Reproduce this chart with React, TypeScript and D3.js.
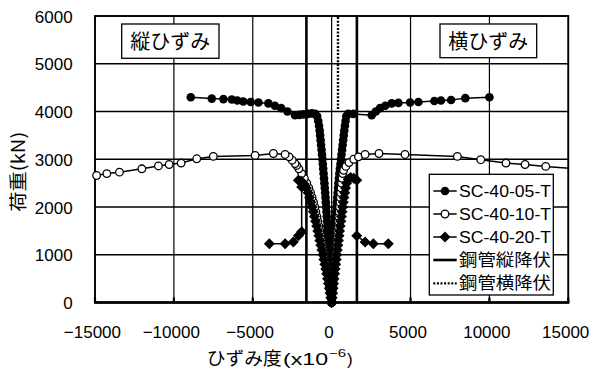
import React from 'react';
import * as d3 from 'd3';

// ---- data: [strain (x10^-6), load (kN)] ----
const sc05Long: number[][] = [
  [0, 0], [-10, 100], [-25, 200], [-40, 300], [-55, 400], [-70, 500], [-85, 600], [-100, 700], [-115, 800],
  [-130, 900], [-150, 1000], [-170, 1100], [-190, 1200], [-210, 1300], [-230, 1400], [-250, 1500],
  [-270, 1600], [-290, 1700], [-310, 1800], [-330, 1900], [-350, 2000], [-370, 2100], [-390, 2200],
  [-410, 2300], [-435, 2400], [-460, 2500], [-485, 2600], [-510, 2700], [-535, 2800], [-560, 2900],
  [-585, 3000], [-610, 3100], [-640, 3200], [-670, 3300], [-700, 3400], [-730, 3500], [-760, 3600],
  [-800, 3700], [-850, 3800], [-920, 3900], [-1050, 3950], [-1250, 3960], [-1500, 3950], [-1800, 3940],
  [-2050, 3930], [-2320, 3920], [-2800, 4000], [-3200, 4070], [-3600, 4120], [-4010, 4170],
  [-4640, 4190], [-5130, 4200], [-5600, 4210], [-5980, 4230], [-6330, 4250], [-6860, 4260],
  [-7600, 4270], [-8930, 4300],
];
const sc05Trans: number[][] = [
  [0, 0], [8, 100], [16, 200], [25, 300], [35, 400], [45, 500], [55, 600], [65, 700], [75, 800],
  [90, 900], [105, 1000], [120, 1100], [135, 1200], [150, 1300], [170, 1400], [190, 1500],
  [210, 1600], [230, 1700], [255, 1800], [280, 1900], [305, 2000], [330, 2100], [355, 2200],
  [380, 2300], [405, 2400], [430, 2500], [460, 2600], [490, 2700], [520, 2800], [555, 2900],
  [590, 3000], [625, 3100], [660, 3200], [695, 3300], [730, 3400], [765, 3500], [800, 3600],
  [840, 3700], [880, 3800], [930, 3900], [1050, 3950], [1370, 3950], [2540, 3920], [2800, 4000],
  [3070, 4070], [3400, 4120], [3810, 4170], [4230, 4180], [4970, 4190], [5500, 4200], [6510, 4220],
  [6930, 4230], [7570, 4240], [8470, 4280], [10000, 4300],
];
const sc10Long: number[][] = [
  [0, 0], [-40, 100], [-85, 200], [-130, 300], [-175, 400], [-220, 500], [-270, 600], [-320, 700],
  [-370, 800], [-420, 900], [-470, 1000], [-525, 1100], [-580, 1200], [-635, 1300], [-690, 1400],
  [-750, 1500], [-810, 1600], [-870, 1700], [-930, 1800], [-1000, 1900], [-1070, 2000], [-1150, 2100],
  [-1240, 2200], [-1340, 2300], [-1450, 2400], [-1580, 2500], [-1730, 2600], [-1900, 2700],
  [-2080, 2800], [-2220, 2870], [-2320, 2910], [-2500, 2980], [-2700, 3050], [-2950, 3100],
  [-3690, 3120], [-4850, 3080], [-7500, 3060], [-8550, 3010], [-9540, 2920], [-10300, 2890],
  [-10980, 2860], [-12030, 2800], [-13450, 2730], [-14250, 2700], [-14900, 2660],
];
const sc10Trans: number[][] = [
  [0, 0], [25, 100], [50, 200], [75, 300], [100, 400], [125, 500], [150, 600], [175, 700], [200, 800],
  [225, 900], [250, 1000], [275, 1100], [300, 1200], [325, 1300], [350, 1400], [375, 1500],
  [400, 1600], [425, 1700], [450, 1800], [475, 1900], [500, 2000], [525, 2100], [550, 2200],
  [575, 2300], [600, 2400], [630, 2500], [660, 2600], [700, 2700], [760, 2770], [900, 2850],
  [1100, 2930], [1400, 3000], [1700, 3050], [2120, 3100], [3000, 3120], [4650, 3100], [7970, 3060],
  [9450, 2990], [11050, 2920], [12260, 2890], [13570, 2850], [16000, 2790],
];
const sc20Long: number[][] = [
  [0, 0], [-50, 100], [-100, 200], [-150, 300], [-205, 400], [-260, 500], [-315, 600], [-375, 700],
  [-435, 800], [-495, 900], [-555, 1000], [-620, 1100], [-685, 1200], [-750, 1300], [-815, 1400],
  [-880, 1500], [-950, 1600], [-1020, 1700], [-1090, 1800], [-1160, 1900], [-1240, 2000],
  [-1320, 2100], [-1400, 2200], [-1490, 2300], [-1600, 2400], [-1750, 2480], [-1920, 2540],
  [-2110, 2560], [-1900, 2420], [-1900, 1480], [-2110, 1400], [-2430, 1265], [-2950, 1230],
  [-3950, 1230],
];
const sc20Trans: number[][] = [
  [0, 0], [30, 100], [60, 200], [90, 300], [120, 400], [150, 500], [185, 600], [220, 700], [255, 800],
  [290, 900], [325, 1000], [360, 1100], [395, 1200], [430, 1300], [465, 1400], [500, 1500],
  [540, 1600], [580, 1700], [620, 1800], [660, 1900], [700, 2000], [740, 2100], [780, 2200],
  [830, 2300], [880, 2400], [950, 2500], [1050, 2580], [1200, 2620], [1400, 2600], [1590, 2560],
  [1590, 1400], [2120, 1265], [2640, 1230], [3590, 1230],
];
const steelLongYield: number[][] = [[-1600, 0], [-1600, 6000]];
const steelLongYield2: number[][] = [[1600, 0], [1600, 6000]];
const steelTransYield: number[][] = [[400, 4050], [400, 6000]];

const xTicks = [-15000, -10000, -5000, 0, 5000, 10000, 15000];
const yTicks = [0, 1000, 2000, 3000, 4000, 5000, 6000];
const legendLabels = ['SC-40-05-T', 'SC-40-10-T', 'SC-40-20-T', '鋼管縦降伏', '鋼管横降伏'];

type MarkerKind = 'filled' | 'open' | 'diamond';

function Marker({ kind, cx, cy }: { kind: MarkerKind; cx: number; cy: number }) {
  if (kind === 'filled') return <circle cx={cx} cy={cy} r={4.3} fill="#000" />;
  if (kind === 'open') return <circle cx={cx} cy={cy} r={3.8} fill="#fff" stroke="#000" strokeWidth={1.3} />;
  const r = 5.5;
  return <path d={`M${cx},${cy - r}L${cx + r},${cy}L${cx},${cy + r}L${cx - r},${cy}Z`} fill="#000" />;
}

export default function App() {
  const L = 95, R = 568.3, T = 16, B = 302.5;
  const x = d3.scaleLinear().domain([-15000, 15000]).range([L, R]);
  const y = d3.scaleLinear().domain([0, 6000]).range([B, T]);
  const line = d3.line<number[]>().x(d => x(d[0])).y(d => y(d[1]));
  const fmt = d3.format('d');

  const series: { data: number[][][]; kind: MarkerKind }[] = [
    { data: [sc05Long, sc05Trans], kind: 'filled' },
    { data: [sc10Long, sc10Trans], kind: 'open' },
    { data: [sc20Long, sc20Trans], kind: 'diamond' },
  ];

  const sans = 'Liberation Sans, Arial, sans-serif';
  const jp = 'Noto Sans CJK JP, sans-serif';

  const legX = 429.3, legY = 174.3, legW = 124, legH = 120.7;
  const rowY = [191, 214, 237, 260, 283.3];

  return (
    <svg width={595} height={369} style={{ position: 'absolute', left: 0, top: 0, background: '#fff' }}>
      <defs>
        <clipPath id="plot"><rect x={L} y={T} width={R - L} height={B - T} /></clipPath>
      </defs>
      <rect x={0} y={0} width={595} height={369} fill="#fff" />
      {yTicks.map(t => (
        <line key={'gy' + t} x1={L} x2={R} y1={y(t)} y2={y(t)} stroke="#000" strokeWidth={1.3} />
      ))}
      {xTicks.map(t => (
        <line key={'gx' + t} x1={x(t)} x2={x(t)} y1={T} y2={B} stroke="#000" strokeWidth={1.2} />
      ))}
      <rect x={L} y={T} width={R - L} height={B - T} fill="none" stroke="#000" strokeWidth={1.8} />
      <line x1={L - 1} x2={R + 1} y1={B} y2={B} stroke="#000" strokeWidth={2.6} />
      {xTicks.map(t => (
        <line key={'tk' + t} x1={x(t)} x2={x(t)} y1={B} y2={B - 5} stroke="#000" strokeWidth={2.2} />
      ))}
      <rect x={121.7} y={24} width={97.3} height={34.3} fill="#fff" stroke="#000" strokeWidth={1.3} />
      <text x={170.3} y={48.5} fontFamily={jp} fontSize={20} textAnchor="middle">縦ひずみ</text>
      <rect x={440} y={24} width={96.7} height={33.7} fill="#fff" stroke="#000" strokeWidth={1.3} />
      <text x={488.3} y={48.5} fontFamily={jp} fontSize={20} textAnchor="middle">横ひずみ</text>
      <path d={line(steelLongYield) || ''} stroke="#000" strokeWidth={2.6} fill="none" />
      <path d={line(steelLongYield2) || ''} stroke="#000" strokeWidth={2.6} fill="none" />
      <path d={line(steelTransYield) || ''} stroke="#000" strokeWidth={2.4} strokeDasharray="2,1.6" fill="none" />
      {series.map((s, si) => (
        <g key={'s' + si}>
          {s.data.map((br, bi) => (
            <g key={'b' + bi}>
              <path d={line(br) || ''} stroke="#000" strokeWidth={1.5} fill="none" clipPath="url(#plot)" />
              {br.filter(d => d[0] >= -15000 && d[0] <= 15000).map((d, i) => (
                <Marker key={i} kind={s.kind} cx={x(d[0])} cy={y(d[1])} />
              ))}
            </g>
          ))}
        </g>
      ))}
      {yTicks.map(t => (
        <text key={'yl' + t} x={72.7} y={y(t) + 6.5} fontFamily={sans} fontSize={17} textAnchor="end">{fmt(t)}</text>
      ))}
      {xTicks.map(t => (
        <text key={'xl' + t} x={x(t) - 2.6} y={338} fontFamily={sans} fontSize={17} textAnchor="middle">{fmt(t)}</text>
      ))}
      <text x={206.7} y={365} fontFamily={jp} fontSize={18.5} textLength={75} lengthAdjust="spacingAndGlyphs">ひずみ度</text>
      <text x={283} y={365} fontFamily={sans} fontSize={17} textLength={45} lengthAdjust="spacingAndGlyphs">(x10</text>
      <text x={329} y={357} fontFamily={sans} fontSize={11} textLength={17} lengthAdjust="spacingAndGlyphs">−6</text>
      <text x={347} y={365} fontFamily={sans} fontSize={17}>)</text>
      <text transform="translate(24.5,171.7) rotate(-90)" fontFamily={jp} fontSize={18} textAnchor="middle" textLength={80} lengthAdjust="spacingAndGlyphs">荷重(kN)</text>
      <rect x={legX} y={legY} width={legW} height={legH} fill="#fff" stroke="#000" strokeWidth={1.3} />
      {legendLabels.map((lab, i) => {
        const cy = rowY[i];
        const x1 = 433.3, x2 = 456.7, xm = 445;
        let sym: React.ReactNode;
        if (i < 3) {
          const kind: MarkerKind = i === 0 ? 'filled' : i === 1 ? 'open' : 'diamond';
          sym = (
            <g>
              <line x1={x1} x2={x2} y1={cy} y2={cy} stroke="#000" strokeWidth={1.5} />
              <Marker kind={kind} cx={xm} cy={cy} />
            </g>
          );
        } else if (i === 3) {
          sym = <line x1={x1} x2={x2} y1={cy} y2={cy} stroke="#000" strokeWidth={2.6} />;
        } else {
          sym = <line x1={x1} x2={x2} y1={cy} y2={cy} stroke="#000" strokeWidth={2.2} strokeDasharray="2,1.6" />;
        }
        const isJp = i >= 3;
        return (
          <g key={'lg' + i}>
            {sym}
            <text x={459} y={cy + 6} fontFamily={isJp ? jp : sans} fontSize={isJp ? 16.5 : 16}
              textLength={92} lengthAdjust="spacingAndGlyphs">{lab}</text>
          </g>
        );
      })}
    </svg>
  );
}
